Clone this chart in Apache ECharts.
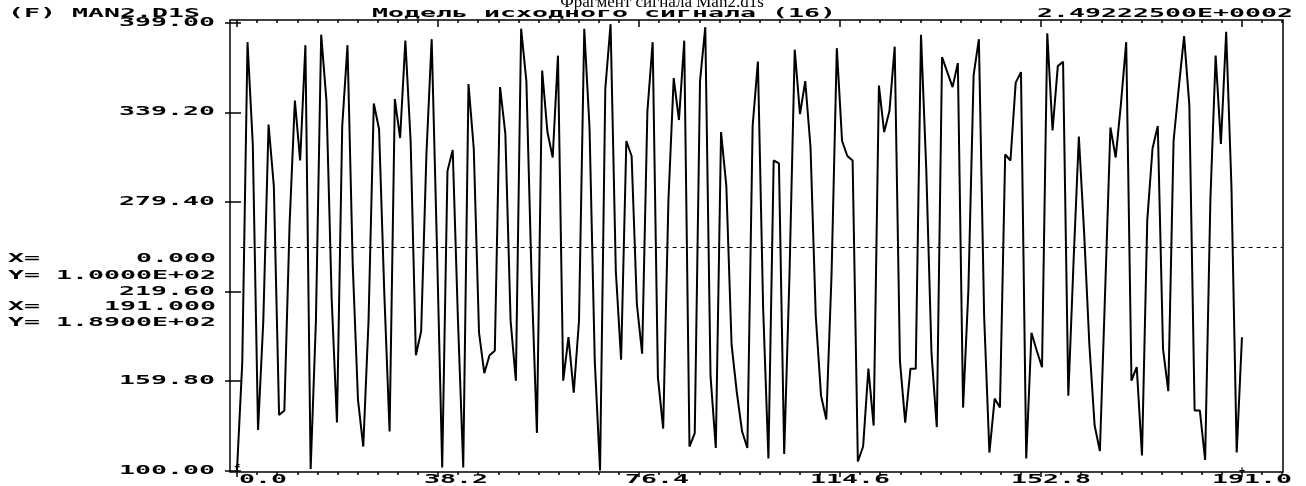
<!DOCTYPE html>
<html><head><meta charset="utf-8">
<script src="https://cdn.jsdelivr.net/npm/echarts@6/dist/echarts.min.js"></script>
<style>html,body{margin:0;padding:0;background:#fff;overflow:hidden}#c{width:1306px;height:486px}</style>
</head><body><div id="c"></div>
<script>
// ---- data ----
const signal = [
100,172,386,318,127,200,331,290,137,140,265,347,307,384,101,200,391,347,214,132,
330,384,237,147,116,200,345,328,218,126,348,322,387,320,177,193,311,388,250,102,
300,314,200,102,358,315,192,165,177,180,356,325,200,160,395,360,227,125,367,326,
309,377,160,189,152,200,395,329,173,100,355,398,233,174,320,310,211,178,340,386,
162,128,281,362,334,387,116,125,360,396,163,115,326,290,184,152,126,115,330,373,
208,108,307,305,111,230,381,338,360,316,203,150,134,231,382,320,310,307,106,116,
168,130,357,326,340,383,173,132,168,168,391,301,178,129,376,366,356,372,142,220,
364,388,203,112,148,142,311,307,359,366,108,192,180,169,392,327,370,373,150,240,
323,259,184,130,113,220,329,309,345,386,160,169,110,267,315,330,181,153,320,356,
390,344,140,140,107,281,377,318,393,290,112,189
];
const yTicks = [100, 159.8, 219.6, 279.4, 339.2, 399];
const yTickLabels = ['100.00', '159.80', '219.60', '279.40', '339.20', '399.00'];
const xTicks = [0, 38.2, 76.4, 114.6, 152.8, 191];
const xTickLabels = ['0.0', '38.2', '76.4', '114.6', '152.8', '191.0'];
const meanValue = 249.2225;
const titleText = 'Фрагмент сигнала Man2.d1s';
const headerLeft = '(F) MAN2.D1S';
const headerCenter = 'Модель исходного сигнала (16)';
const headerRight = '2.49222500E+0002';
const cursorLines = ['X=      0.000', 'Y= 1.0000E+02', 'X=    191.000', 'Y= 1.8900E+02'];

// ---- chart ----
const minorStep = 3.82;
const xMinor = [];
for (let v = 0; v <= 198.8; v += minorStep) xMinor.push(+v.toFixed(2));

const X_MIN = -1.33, X_MAX = 198.8, Y_MIN = 99.0, Y_MAX = 400.8;
const chart = echarts.init(document.getElementById('c'), null, {renderer: 'canvas'});

function xAxisDef(pos, vals, len, inside) {
  return {
    type: 'value', position: pos, min: X_MIN, max: X_MAX, offset: 0,
    axisLine: {show: false},
    axisTick: {show: true, customValues: vals, length: len, inside: inside,
               lineStyle: {color: '#000', width: 1.5}},
    axisLabel: {show: false}, splitLine: {show: false}
  };
}
function yAxisDef(pos, len, inside) {
  return {
    type: 'value', position: pos, min: Y_MIN, max: Y_MAX, offset: 0,
    axisLine: {show: false},
    axisTick: {show: true, customValues: yTicks, length: len, inside: inside,
               lineStyle: {color: '#000', width: 1.5}},
    axisLabel: {show: false}, splitLine: {show: false}
  };
}

chart.setOption({
  animation: false,
  backgroundColor: '#fff',
  grid: {left: 230, top: 20, width: 1053, height: 452, show: true,
         borderColor: '#000', borderWidth: 1.5, backgroundColor: 'transparent'},
  xAxis: [
    xAxisDef('bottom', xTicks, 5, false),
    xAxisDef('bottom', xMinor, 3, false),
    xAxisDef('top', xTicks, 7, true),
    xAxisDef('top', xMinor, 3, true)
  ],
  yAxis: [yAxisDef('left', 12, false), yAxisDef('right', 4, false)],
  series: [{
    type: 'line', xAxisIndex: 0, yAxisIndex: 0,
    data: signal.map((v, i) => [i, v]),
    symbol: 'none', smooth: false,
    lineStyle: {color: '#000', width: 2},
    markLine: {
      silent: true, symbol: 'none', label: {show: false},
      lineStyle: {color: '#000', width: 1, type: [4, 4]},
      data: [[{coord: [0.7, meanValue]}, {coord: [X_MAX, meanValue]}]]
    }
  }]
});

// ---- DOS-style texts (monospace, stretched horizontally) ----
const DOS_FONT = 'bold 12px "DejaVu Sans Mono"';
const SX = 2.215;
function dosText(text, x, y, align) {
  return {type: 'text', x: x, y: y, scaleX: SX, scaleY: 1, silent: true,
          style: {text: text, font: DOS_FONT, fill: '#000',
                  textAlign: align || 'left', textVerticalAlign: 'middle'}};
}
const els = [];
els.push({type: 'text', x: 662, y: 3, silent: true,
          style: {text: titleText, font: '17px "Liberation Serif"', fill: '#000',
                  textAlign: 'center', textVerticalAlign: 'middle'}});
els.push(dosText(headerLeft, 8, 14, 'left'));
els.push(dosText(headerCenter, 372, 14, 'left'));
els.push(dosText(headerRight, 1293, 14, 'right'));
yTicks.forEach((v, k) => {
  const py = chart.convertToPixel({yAxisIndex: 0}, v);
  els.push(dosText(yTickLabels[k], 215, py, 'right'));
});
// x labels: right-aligned in a fixed-width field that ends a little past the tick
xTicks.forEach((v, k) => {
  const px = chart.convertToPixel({xAxisIndex: 0}, v);
  els.push(dosText(xTickLabels[k], px + 50, 480, 'right'));
});
const cursorY = [259, 276, 307, 323];
cursorLines.forEach((t, k) => els.push(dosText(t, 8, cursorY[k], 'left')));
// cursor markers at first and last sample
const p0 = chart.convertToPixel({xAxisIndex: 0, yAxisIndex: 0}, [0, signal[0]]);
const p1 = chart.convertToPixel({xAxisIndex: 0, yAxisIndex: 0}, [signal.length - 1, Y_MIN]);
els.push({type: 'text', x: p0[0], y: p0[1] - 1, silent: true,
          style: {text: 'f', font: 'bold 11px "DejaVu Sans Mono"', fill: '#000',
                  textAlign: 'center', textVerticalAlign: 'middle'}});
els.push({type: 'text', x: p1[0], y: p1[1] - 2, silent: true,
          style: {text: '+', font: 'bold 10px "DejaVu Sans Mono"', fill: '#000',
                  textAlign: 'center', textVerticalAlign: 'middle'}});
chart.setOption({graphic: {elements: els}});
</script>
</body></html>
